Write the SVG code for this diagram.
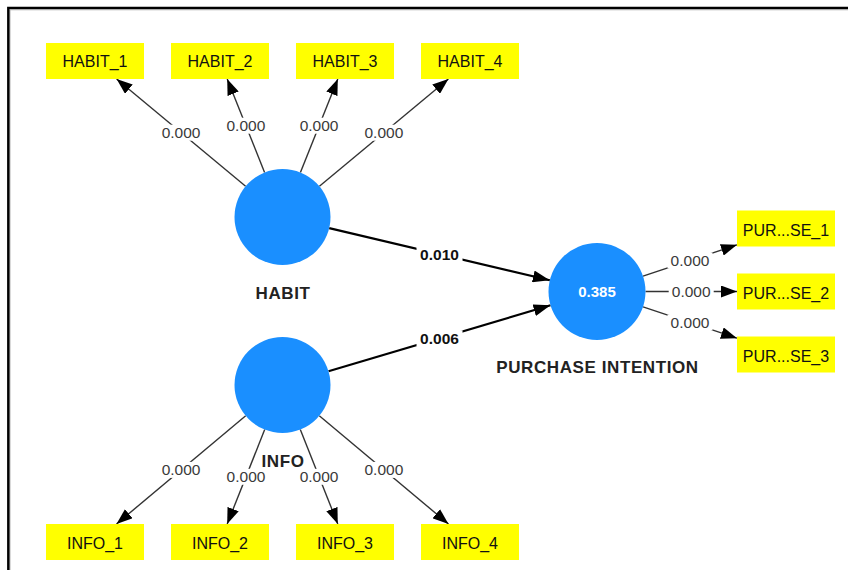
<svg xmlns="http://www.w3.org/2000/svg" width="848" height="570" viewBox="0 0 848 570">
<defs>
<style>
.box{fill:#FFFF00}
.btxt{font-family:"Liberation Sans",Arial,sans-serif;font-size:16px;fill:#111;text-anchor:middle}
.lv{fill:#1A8FFF}
.lvname{font-family:"Liberation Sans",Arial,sans-serif;font-size:17px;font-weight:bold;fill:#222;text-anchor:middle;letter-spacing:0.6px}
.ol{stroke:#333;stroke-width:1.4;fill:none;marker-end:url(#ah)}
.il{stroke:#000;stroke-width:2.2;fill:none;marker-end:url(#ahb)}
.bg{fill:#fff}
.w{font-family:"Liberation Sans",Arial,sans-serif;font-size:15.5px;fill:#3a3a3a;text-anchor:middle}
.wb{font-family:"Liberation Sans",Arial,sans-serif;font-size:15.5px;font-weight:bold;fill:#111;text-anchor:middle}
</style>
<marker id="ah" markerUnits="userSpaceOnUse" viewBox="0 0 16 12" refX="16" refY="6" markerWidth="16" markerHeight="12" orient="auto"><path d="M0,0 L16,6 L0,12 z" fill="#000"/></marker>
<marker id="ahb" markerUnits="userSpaceOnUse" viewBox="0 0 17 12" refX="17" refY="6" markerWidth="17" markerHeight="12" orient="auto"><path d="M0,0 L17,6 L0,12 z" fill="#000"/></marker>
</defs>
<rect width="848" height="570" fill="#fff"/>
<path d="M9.8,570 V9.7 H848" stroke="#aaa" stroke-width="1.3" fill="none"/>
<path d="M8.3,570 V7.9 H848" stroke="#000" stroke-width="2.4" fill="none"/>

<g id="connectors">
<line class="ol" x1="245.6" y1="186.3" x2="116.6" y2="79"/>
<line class="ol" x1="264.6" y1="172.4" x2="227.2" y2="79"/>
<line class="ol" x1="300.4" y1="172.4" x2="337.8" y2="79"/>
<line class="ol" x1="319.4" y1="186.3" x2="448.4" y2="79"/>
<line class="ol" x1="245.7" y1="415.8" x2="116.5" y2="524"/>
<line class="ol" x1="264.7" y1="429.6" x2="227.2" y2="524"/>
<line class="ol" x1="300.3" y1="429.6" x2="337.8" y2="524"/>
<line class="ol" x1="319.3" y1="415.8" x2="448.5" y2="524"/>
<line class="ol" x1="643" y1="276.2" x2="737" y2="244.8"/>
<line class="ol" x1="645.5" y1="291.5" x2="737" y2="291.5"/>
<line class="ol" x1="643" y1="306.8" x2="737" y2="338.2"/>
<line class="il" x1="329.2" y1="228.1" x2="549.8" y2="280.3"/>
<line class="il" x1="328.5" y1="371.3" x2="550.5" y2="305.3"/>

<rect class="bg" x="158.6" y="124.7" width="45" height="16"/><text class="w" x="181.1" y="138.2">0.000</text>
<rect class="bg" x="223.4" y="117.7" width="45" height="16"/><text class="w" x="245.9" y="131.2">0.000</text>
<rect class="bg" x="296.6" y="117.7" width="45" height="16"/><text class="w" x="319.1" y="131.2">0.000</text>
<rect class="bg" x="361.4" y="124.7" width="45" height="16"/><text class="w" x="383.9" y="138.2">0.000</text>
<rect class="bg" x="158.6" y="461.9" width="45" height="16"/><text class="w" x="181.1" y="475.4">0.000</text>
<rect class="bg" x="223.5" y="468.8" width="45" height="16"/><text class="w" x="246" y="482.3">0.000</text>
<rect class="bg" x="296.6" y="468.8" width="45" height="16"/><text class="w" x="319.1" y="482.3">0.000</text>
<rect class="bg" x="361.4" y="461.9" width="45" height="16"/><text class="w" x="383.9" y="475.4">0.000</text>
<rect class="bg" x="667.5" y="252.5" width="45" height="16"/><text class="w" x="690" y="266">0.000</text>
<rect class="bg" x="668.7" y="283.5" width="45" height="16"/><text class="w" x="691.2" y="297">0.000</text>
<rect class="bg" x="667.5" y="314.5" width="45" height="16"/><text class="w" x="690" y="328">0.000</text>
<rect class="bg" x="416.5" y="246.2" width="46" height="16"/><text class="wb" x="439.5" y="259.8">0.010</text>
<rect class="bg" x="416.5" y="330.3" width="46" height="16"/><text class="wb" x="439.5" y="343.9">0.006</text>
</g>

<g id="HABIT"><circle class="lv" cx="282.5" cy="217" r="48"/><text class="lvname" x="283" y="299">HABIT</text></g>
<g id="INFO"><circle class="lv" cx="282.5" cy="385" r="48"/><text class="lvname" x="283" y="467">INFO</text></g>
<g id="PURCHASE_INTENTION"><circle class="lv" cx="597" cy="291.5" r="48.5"/><text x="597" y="296.8" font-family="Liberation Sans, Arial, sans-serif" font-size="15" font-weight="bold" fill="#fff" text-anchor="middle">0.385</text><text class="lvname" x="597.5" y="372.5">PURCHASE INTENTION</text></g>

<g id="HABIT_1"><rect class="box" x="46" y="43" width="98" height="36"/><text class="btxt" x="95" y="67.3">HABIT_1</text></g>
<g id="HABIT_2"><rect class="box" x="171" y="43" width="98" height="36"/><text class="btxt" x="220" y="67.3">HABIT_2</text></g>
<g id="HABIT_3"><rect class="box" x="296" y="43" width="98" height="36"/><text class="btxt" x="345" y="67.3">HABIT_3</text></g>
<g id="HABIT_4"><rect class="box" x="421" y="43" width="98" height="36"/><text class="btxt" x="470" y="67.3">HABIT_4</text></g>
<g id="INFO_1"><rect class="box" x="46" y="524" width="98" height="36"/><text class="btxt" x="95" y="549">INFO_1</text></g>
<g id="INFO_2"><rect class="box" x="171" y="524" width="98" height="36"/><text class="btxt" x="220" y="549">INFO_2</text></g>
<g id="INFO_3"><rect class="box" x="296" y="524" width="98" height="36"/><text class="btxt" x="345" y="549">INFO_3</text></g>
<g id="INFO_4"><rect class="box" x="421" y="524" width="98" height="36"/><text class="btxt" x="470" y="549">INFO_4</text></g>
<g id="PURSE_1"><rect class="box" x="737" y="210.5" width="98" height="36"/><text class="btxt" x="786" y="235.5">PUR...SE_1</text></g>
<g id="PURSE_2"><rect class="box" x="737" y="273.5" width="98" height="36"/><text class="btxt" x="786" y="298.5">PUR...SE_2</text></g>
<g id="PURSE_3"><rect class="box" x="737" y="336.5" width="98" height="36"/><text class="btxt" x="786" y="361.5">PUR...SE_3</text></g>
</svg>
